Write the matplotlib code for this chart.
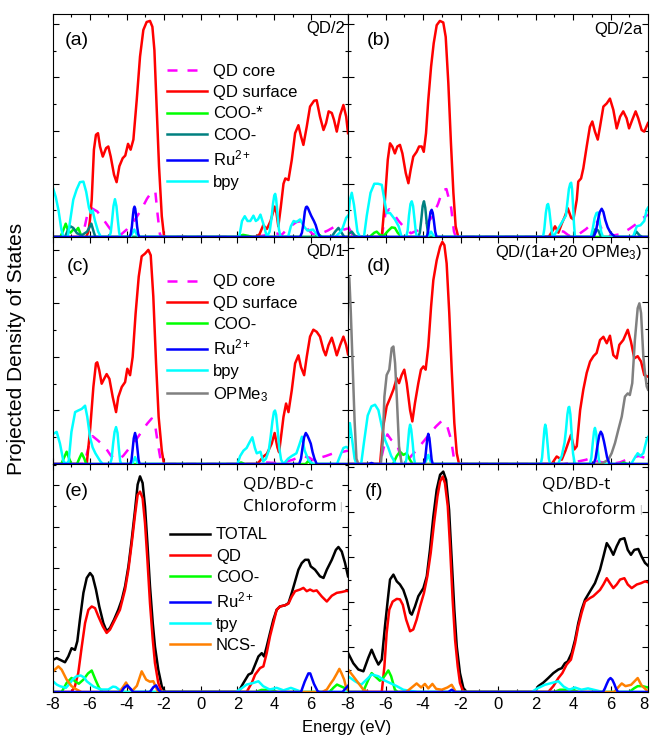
import matplotlib.pyplot as plt
from matplotlib.ticker import MultipleLocator

# energies (eV) and projected DOS, one list of (E, DOS) per curve

# (a) QD/2
a_core = [(-8, 0), (-6.4, 0), (-6.15, 0.4), (-5.95, 0.55), (-5.6, 0.48), (-5.25, 0.32), (-4.9, 0.15),
          (-4.55, 0.06), (-4.3, 0.05), (-4.0, 0.14), (-3.6, 0.3), (-3.2, 0.52), (-2.9, 0.72), (-2.6, 0.87),
          (-2.45, 0.85), (-2.32, 0.4), (-2.2, 0.05), (-2.1, 0), (2.8, 0), (3.3, 0.02), (3.8, 0.05), (4.1, 0.07),
          (4.4, 0.04), (4.8, 0.18), (5.2, 0.28), (5.5, 0.3), (5.8, 0.15), (6.1, 0.05), (6.5, 0.06), (6.9, 0.12),
          (7.3, 0.2), (7.6, 0.17), (7.8, 0.14), (8.0, 0.16)]
a_surface = [(-8, 0), (-6.2, 0), (-6.08, 0.1), (-6.0, 0.3), (-5.9, 0.7), (-5.78, 1.64), (-5.67, 1.92), (-5.56, 1.95),
             (-5.45, 1.7), (-5.3, 1.51), (-5.12, 1.67), (-5.0, 1.7), (-4.87, 1.51), (-4.69, 1.17), (-4.55, 1.03),
             (-4.4, 1.33), (-4.22, 1.48), (-4.08, 1.53), (-3.93, 1.75), (-3.79, 1.64), (-3.64, 1.83), (-3.46, 2.57),
             (-3.28, 3.39), (-3.1, 3.89), (-2.92, 4.04), (-2.74, 4.06), (-2.61, 3.95), (-2.5, 3.51), (-2.38, 2.45),
             (-2.25, 1.33), (-2.1, 0.39), (-1.98, 0.02), (-1.9, 0), (3.0, 0), (3.2, 0.05), (3.4, 0.22), (3.6, 0.15),
             (3.8, 0.3), (4.02, 0.57), (4.12, 0.45), (4.22, 0.2), (4.35, 0.55), (4.5, 1.0), (4.6, 1.1), (4.77, 1.07),
             (4.95, 1.45), (5.13, 1.95), (5.31, 2.1), (5.45, 1.89), (5.58, 1.73), (5.76, 2.07), (5.94, 2.45),
             (6.16, 2.56), (6.3, 2.57), (6.48, 2.26), (6.67, 2.01), (6.81, 2.14), (6.95, 2.36), (7.12, 2.33),
             (7.24, 2.2), (7.39, 1.98), (7.57, 2.29), (7.75, 2.48), (7.9, 2.26), (8.0, 1.95)]
a_coo_star = [(-8, 0), (-7.6, 0), (-7.45, 0.12), (-7.31, 0.25), (-7.18, 0.12), (-7.05, 0.08), (-6.9, 0.14),
              (-6.75, 0.12), (-6.63, 0.17), (-6.5, 0.05), (-6.4, 0), (2.0, 0), (2.3, 0.04), (2.6, 0.02), (2.8, 0),
              (6.2, 0), (6.4, 0.05), (6.6, 0), (8, 0)]
a_coo = [(-8, 0), (-7.35, 0), (-7.18, 0.14), (-7.05, 0.2), (-6.9, 0.17), (-6.7, 0.07), (-6.45, 0.03), (-6.15, 0.1),
         (-5.92, 0.25), (-5.78, 0.08), (-5.7, 0), (7.1, 0), (7.3, 0.1), (7.48, 0.17), (7.65, 0.08), (7.8, 0), (8, 0)]
a_ru = [(-8, 0), (-3.85, 0), (-3.78, 0.06), (-3.72, 0.2), (-3.66, 0.42), (-3.62, 0.53), (-3.58, 0.57), (-3.54, 0.53),
        (-3.5, 0.42), (-3.44, 0.2), (-3.38, 0.06), (-3.32, 0), (5.4, 0), (5.5, 0.08), (5.58, 0.25), (5.66, 0.48),
        (5.72, 0.56), (5.77, 0.57), (5.83, 0.54), (5.9, 0.48), (6.0, 0.4), (6.15, 0.3), (6.25, 0.22), (6.35, 0.1),
        (6.45, 0.02), (6.5, 0), (8, 0)]
a_bpy = [(-8, 0.92), (-7.85, 0.75), (-7.7, 0.5), (-7.55, 0.15), (-7.44, 0), (-7.2, 0), (-7.05, 0.35), (-6.9, 0.7),
         (-6.72, 0.89), (-6.54, 1.03), (-6.35, 1.04), (-6.2, 0.85), (-6.05, 0.55), (-5.95, 0.45), (-5.85, 0.5),
         (-5.72, 0.3), (-5.55, 0.1), (-5.4, 0), (-4.95, 0), (-4.87, 0.08), (-4.8, 0.3), (-4.72, 0.58), (-4.64, 0.71),
         (-4.56, 0.58), (-4.48, 0.3), (-4.41, 0.08), (-4.35, 0), (-3.8, 0), (-3.68, 0.08), (-3.59, 0.14),
         (-3.48, 0.06), (-3.35, 0), (2.1, 0), (2.25, 0.3), (2.4, 0.39), (2.55, 0.3), (2.7, 0.3), (2.87, 0.4),
         (3.0, 0.3), (3.12, 0.33), (3.25, 0.42), (3.45, 0.2), (3.6, 0), (3.75, 0.1), (3.85, 0.35), (3.93, 0.62),
         (4.0, 0.78), (4.05, 0.81), (4.1, 0.72), (4.17, 0.45), (4.25, 0.15), (4.32, 0.03), (4.4, 0), (4.75, 0),
         (4.9, 0.2), (5.05, 0.3), (5.2, 0.28), (5.4, 0.33), (5.6, 0.2), (5.8, 0.12), (6.1, 0.14), (6.3, 0.05),
         (6.5, 0), (7.3, 0), (7.55, 0.08), (7.7, 0.16), (7.9, 0.36), (8.0, 0.4)]

# (b) QD/2a
b_core = [(-8, 0.2), (-7.85, 0.1), (-7.7, 0), (-6.2, 0), (-6.0, 0.45), (-5.8, 0.52), (-5.6, 0.45), (-5.3, 0.3),
          (-5.0, 0.18), (-4.65, 0.07), (-4.3, 0.12), (-3.9, 0.22), (-3.5, 0.38), (-3.2, 0.62), (-2.95, 0.88),
          (-2.75, 0.9), (-2.5, 0.55), (-2.35, 0.1), (-2.25, 0), (2.9, 0), (3.2, 0.12), (3.5, 0.1), (3.8, 0.02),
          (4.3, 0.05), (4.7, 0.15), (5.1, 0.28), (5.35, 0.28), (5.6, 0.1), (6.0, 0.02), (6.5, 0.05), (7.0, 0.15),
          (7.4, 0.25), (7.7, 0.35), (8.0, 0.42)]
b_surface = [(-8, 0), (-6.2, 0), (-6.03, 0.7), (-5.88, 1.45), (-5.76, 1.76), (-5.64, 1.7), (-5.5, 1.57), (-5.37, 1.7),
             (-5.23, 1.73), (-5.1, 1.57), (-4.92, 1.2), (-4.78, 1.01), (-4.66, 1.26), (-4.52, 1.51), (-4.34, 1.6),
             (-4.21, 1.7), (-4.07, 1.7), (-3.96, 1.6), (-3.84, 1.95), (-3.72, 2.57), (-3.57, 3.2), (-3.43, 3.64),
             (-3.27, 3.98), (-3.1, 4.06), (-2.92, 4.03), (-2.79, 3.76), (-2.65, 2.89), (-2.51, 1.76), (-2.38, 0.83),
             (-2.26, 0.2), (-2.12, 0), (2.7, 0), (2.95, 0.14), (3.04, 0.2), (3.22, 0.08), (3.4, 0.25), (3.57, 0.39),
             (3.72, 0.54), (3.9, 0.36), (4.02, 0.33), (4.2, 0.7), (4.28, 1.04), (4.43, 1.1), (4.55, 1.29), (4.73, 1.7),
             (4.9, 2.07), (5.03, 2.17), (5.17, 1.98), (5.32, 1.83), (5.44, 2.07), (5.62, 2.45), (5.8, 2.51),
             (5.97, 2.6), (6.15, 2.39), (6.33, 2.04), (6.51, 2.26), (6.68, 2.36), (6.86, 2.23), (6.99, 2.04),
             (7.16, 2.2), (7.34, 2.36), (7.48, 2.23), (7.66, 2.01), (7.8, 1.98), (8.0, 2.14)]
b_coo_star = [(-8, 0), (-6.85, 0), (-6.6, 0.08), (-6.47, 0.1), (-6.3, 0.04), (-6.1, 0.02), (-5.85, 0.12),
              (-5.67, 0.18), (-5.5, 0.17), (-5.35, 0.08), (-5.15, 0), (8, 0)]
b_coo = [(-8, 0.05), (-7.8, 0.1), (-7.65, 0.03), (-7.5, 0), (-4.25, 0), (-4.17, 0.08), (-4.1, 0.3), (-4.02, 0.58),
         (-3.95, 0.67), (-3.88, 0.55), (-3.8, 0.25), (-3.73, 0.05), (-3.68, 0), (5.0, 0), (5.2, 0.15), (5.35, 0.12),
         (5.5, 0), (7.2, 0), (7.38, 0.1), (7.55, 0.03), (7.7, 0), (8, 0)]
b_ru = [(-8, 0), (-3.8, 0), (-3.73, 0.1), (-3.67, 0.3), (-3.6, 0.47), (-3.54, 0.51), (-3.48, 0.45), (-3.42, 0.3),
        (-3.35, 0.1), (-3.28, 0), (5.1, 0), (5.22, 0.1), (5.32, 0.3), (5.43, 0.47), (5.53, 0.53), (5.62, 0.47),
        (5.72, 0.32), (5.85, 0.18), (6.0, 0.08), (6.24, 0), (8, 0)]
b_bpy = [(-8, 0.33), (-7.9, 0.7), (-7.8, 0.83), (-7.68, 0.6), (-7.5, 0.1), (-7.36, 0), (-7.15, 0), (-7.0, 0.4),
         (-6.8, 0.83), (-6.6, 1.0), (-6.4, 1.0), (-6.2, 0.98), (-6.06, 0.7), (-5.94, 0.45), (-5.76, 0.45),
         (-5.5, 0.33), (-5.3, 0.2), (-5.14, 0), (-4.9, 0), (-4.82, 0.12), (-4.75, 0.4), (-4.67, 0.62), (-4.6, 0.67),
         (-4.53, 0.58), (-4.45, 0.32), (-4.38, 0.08), (-4.32, 0), (-3.75, 0), (-3.57, 0.1), (-3.4, 0), (2.4, 0),
         (2.47, 0.15), (2.55, 0.45), (2.62, 0.6), (2.67, 0.62), (2.73, 0.52), (2.8, 0.3), (2.88, 0.08), (2.95, 0),
         (3.2, 0.15), (3.45, 0.3), (3.62, 0.4), (3.7, 0.65), (3.78, 0.9), (3.85, 1.0), (3.9, 1.02), (3.95, 0.9),
         (4.0, 0.6), (4.05, 0.25), (4.1, 0.02), (4.15, 0), (4.95, 0), (5.05, 0.15), (5.15, 0.35), (5.25, 0.45),
         (5.32, 0.46), (5.4, 0.35), (5.5, 0.1), (5.6, 0), (7.2, 0), (7.4, 0.2), (7.6, 0.22), (7.8, 0.3),
         (7.93, 0.51), (8.0, 0.55)]

# (c) QD/1
c_core = [(-8, 0), (-6.3, 0), (-6.05, 0.35), (-5.85, 0.52), (-5.6, 0.45), (-5.2, 0.33), (-4.85, 0.15), (-4.5, 0.08),
          (-4.2, 0.15), (-3.9, 0.28), (-3.5, 0.45), (-3.2, 0.6), (-2.9, 0.75), (-2.65, 0.85), (-2.45, 0.7),
          (-2.3, 0.35), (-2.15, 0.05), (-2.05, 0), (3.0, 0), (3.5, 0.03), (4.0, 0.02), (4.5, 0.03), (5.0, 0.08),
          (5.5, 0.15), (5.9, 0.12), (6.2, 0.05), (6.5, 0.12), (6.8, 0.15), (7.2, 0.2), (7.6, 0.22), (8.0, 0.25)]
c_surface = [(-8, 0), (-6.17, 0), (-5.99, 0.63), (-5.81, 1.44), (-5.67, 1.88), (-5.6, 1.9), (-5.49, 1.75),
             (-5.36, 1.5), (-5.23, 1.59), (-5.09, 1.68), (-4.94, 1.59), (-4.76, 1.25), (-4.58, 0.97), (-4.46, 1.25),
             (-4.27, 1.44), (-4.09, 1.53), (-3.97, 1.78), (-3.82, 1.66), (-3.68, 2.0), (-3.52, 2.81), (-3.35, 3.5),
             (-3.19, 3.88), (-3.01, 3.93), (-2.83, 4.0), (-2.7, 3.9), (-2.56, 3.13), (-2.41, 1.88), (-2.27, 0.88),
             (-2.1, 0.25), (-1.98, 0), (3.05, 0), (3.2, 0.05), (3.41, 0.14), (3.6, 0.19), (3.86, 0.38), (4.02, 0.58),
             (4.17, 0.31), (4.26, 0.22), (4.4, 0.6), (4.5, 0.88), (4.64, 1.13), (4.77, 0.97), (4.95, 1.38),
             (5.13, 1.88), (5.31, 2.03), (5.45, 1.81), (5.62, 1.66), (5.76, 2.0), (5.94, 2.38), (6.12, 2.51),
             (6.3, 2.47), (6.48, 2.38), (6.67, 2.13), (6.79, 2.03), (6.94, 2.22), (7.12, 2.36), (7.24, 2.22),
             (7.39, 2.03), (7.57, 2.22), (7.75, 2.38), (7.9, 2.22), (8.0, 2.05)]
c_coo = [(-8, 0), (-7.55, 0), (-7.4, 0.12), (-7.26, 0.23), (-7.12, 0.1), (-7.0, 0), (-6.7, 0), (-6.55, 0.12),
         (-6.44, 0.2), (-6.3, 0.1), (-6.2, 0), (2.0, 0), (2.2, 0.03), (2.4, 0), (5.7, 0), (5.85, 0.06), (6.0, 0), (8, 0)]
c_ru = [(-8, 0), (-3.8, 0), (-3.74, 0.08), (-3.68, 0.28), (-3.62, 0.48), (-3.55, 0.58), (-3.48, 0.48), (-3.42, 0.28),
        (-3.36, 0.08), (-3.3, 0), (5.35, 0), (5.45, 0.1), (5.53, 0.3), (5.62, 0.5), (5.71, 0.58), (5.8, 0.53),
        (5.9, 0.45), (5.98, 0.38), (6.08, 0.22), (6.18, 0.1), (6.3, 0), (8, 0)]
c_bpy = [(-8, 0.56), (-7.8, 0.6), (-7.62, 0.38), (-7.44, 0.06), (-7.3, 0), (-7.15, 0.05), (-7.0, 0.6), (-6.8, 0.97),
         (-6.63, 1.0), (-6.44, 1.03), (-6.26, 1.09), (-6.14, 0.88), (-5.99, 0.5), (-5.85, 0.31), (-5.7, 0.2),
         (-5.45, 0.06), (-5.3, 0), (-4.9, 0), (-4.82, 0.1), (-4.74, 0.38), (-4.66, 0.6), (-4.58, 0.69), (-4.5, 0.58),
         (-4.43, 0.3), (-4.36, 0.06), (-4.3, 0), (-3.7, 0), (-3.55, 0.13), (-3.4, 0), (2.0, 0), (2.15, 0.15),
         (2.33, 0.25), (2.5, 0.3), (2.65, 0.4), (2.81, 0.5), (2.95, 0.3), (3.05, 0.2), (3.25, 0.23), (3.4, 0.05),
         (3.55, 0.1), (3.7, 0.25), (3.8, 0.5), (3.9, 0.8), (3.98, 0.97), (4.04, 1.0), (4.1, 0.92), (4.18, 0.65),
         (4.27, 0.3), (4.37, 0.08), (4.5, 0), (4.75, 0.1), (4.95, 0.15), (5.2, 0.2), (5.35, 0.35), (5.5, 0.51),
         (5.65, 0.25), (5.85, 0.08), (6.1, 0), (7.4, 0), (7.57, 0.15), (7.75, 0.3), (7.9, 0.32), (8.0, 0.3)]

# (d) QD/(1a+20 OPMe3)
d_core = [(-8, 0), (-6.3, 0), (-6.1, 0.3), (-5.9, 0.55), (-5.7, 0.45), (-5.4, 0.38), (-5.2, 0.15), (-5.0, 0.05),
          (-4.7, 0.12), (-4.3, 0.28), (-3.9, 0.45), (-3.6, 0.58), (-3.3, 0.7), (-3.0, 0.8), (-2.75, 0.75),
          (-2.5, 0.45), (-2.35, 0.1), (-2.25, 0), (3.5, 0), (4.0, 0.03), (4.3, 0.05), (4.7, 0.08), (5.0, 0.12),
          (5.3, 0.05), (6.0, 0), (6.5, 0.03), (7.0, 0.1), (7.5, 0.15), (7.8, 0.12), (8.0, 0.1)]
d_surface = [(-8, 0), (-6.29, 0), (-6.12, 0.7), (-5.94, 1.07), (-5.76, 1.22), (-5.58, 1.38), (-5.4, 1.59),
             (-5.28, 1.5), (-5.14, 1.65), (-5.0, 1.75), (-4.87, 1.5), (-4.69, 1.0), (-4.57, 0.79), (-4.43, 1.13),
             (-4.25, 1.5), (-4.11, 1.75), (-3.98, 1.81), (-3.86, 1.75), (-3.72, 2.18), (-3.57, 2.92), (-3.45, 3.41),
             (-3.27, 3.78), (-3.09, 4.03), (-2.97, 4.12), (-2.86, 4.06), (-2.74, 3.72), (-2.6, 2.8), (-2.47, 1.75),
             (-2.33, 0.76), (-2.2, 0.2), (-2.08, 0), (2.86, 0), (3.13, 0.14), (3.4, 0.08), (3.6, 0.25), (3.75, 0.4),
             (3.89, 0.54), (4.07, 0.27), (4.2, 0.33), (4.38, 1.0), (4.55, 1.38), (4.73, 1.69), (4.91, 1.9),
             (5.09, 2.0), (5.26, 2.06), (5.44, 2.3), (5.62, 2.36), (5.8, 2.24), (5.97, 2.38), (6.15, 2.02),
             (6.33, 1.96), (6.47, 2.21), (6.68, 2.3), (6.92, 2.49), (7.09, 2.27), (7.27, 1.96), (7.45, 2.0),
             (7.63, 1.9), (7.8, 1.65), (8.0, 1.62)]
d_coo = [(-8, 0), (-5.6, 0), (-5.4, 0.15), (-5.23, 0.23), (-5.05, 0.17), (-4.87, 0.2), (-4.7, 0.08), (-4.55, 0),
         (6.5, 0), (6.7, 0.03), (6.9, 0), (8, 0)]
d_ru = [(-8, 0), (-6.9, 0), (-6.75, 0.02), (-6.6, 0), (-3.95, 0), (-3.89, 0.08), (-3.83, 0.28), (-3.77, 0.48),
        (-3.72, 0.56), (-3.66, 0.48), (-3.6, 0.28), (-3.54, 0.08), (-3.48, 0), (5.1, 0), (5.2, 0.1), (5.3, 0.33),
        (5.4, 0.53), (5.48, 0.6), (5.56, 0.55), (5.65, 0.42), (5.72, 0.3), (5.82, 0.12), (5.95, 0), (8, 0)]
d_bpy = [(-8, 0.35), (-7.9, 0.76), (-7.8, 0.5), (-7.65, 0.1), (-7.55, 0), (-7.3, 0), (-7.15, 0.4), (-6.95, 0.9),
         (-6.75, 1.07), (-6.56, 1.1), (-6.38, 1.0), (-6.2, 0.7), (-6.03, 0.45), (-5.85, 0.3), (-5.7, 0.15),
         (-5.58, 0.08), (-5.45, 0), (-4.95, 0), (-4.88, 0.1), (-4.8, 0.4), (-4.74, 0.64), (-4.69, 0.73),
         (-4.63, 0.64), (-4.55, 0.38), (-4.48, 0.1), (-4.42, 0), (-3.9, 0), (-3.72, 0.17), (-3.55, 0), (2.28, 0),
         (2.35, 0.12), (2.42, 0.42), (2.48, 0.66), (2.52, 0.73), (2.57, 0.65), (2.64, 0.38), (2.71, 0.1), (2.78, 0),
         (3.2, 0), (3.4, 0.15), (3.55, 0.4), (3.63, 0.65), (3.7, 0.92), (3.76, 1.05), (3.8, 1.06), (3.86, 0.92),
         (3.93, 0.55), (4.0, 0.2), (4.08, 0.03), (4.15, 0), (4.9, 0), (4.98, 0.12), (5.05, 0.38), (5.12, 0.6),
         (5.17, 0.67), (5.23, 0.58), (5.3, 0.32), (5.38, 0.08), (5.45, 0), (7.1, 0), (7.3, 0.12), (7.45, 0.2),
         (7.6, 0.15), (7.75, 0.2), (7.93, 0.45), (8.0, 0.5)]
d_opme3 = [(-8, 3.5), (-7.93, 3.45), (-7.85, 2.8), (-7.75, 1.8), (-7.65, 0.8), (-7.55, 0.1), (-7.45, 0), (-6.25, 0),
           (-6.15, 0.4), (-6.06, 1.25), (-5.94, 1.65), (-5.8, 1.75), (-5.72, 2.0), (-5.67, 2.15), (-5.58, 2.18),
           (-5.49, 1.87), (-5.4, 1.25), (-5.28, 0.33), (-5.14, 0), (5.5, 0), (5.88, 0.08), (6.06, 0.2), (6.24, 0.39),
           (6.42, 0.64), (6.6, 0.88), (6.77, 1.25), (6.92, 1.31), (7.03, 1.28), (7.16, 1.5), (7.3, 2.3), (7.45, 2.89),
           (7.54, 2.98), (7.63, 2.8), (7.75, 2.0), (7.84, 1.69), (7.93, 1.44), (8.0, 1.38)]

# (e) QD/BD-c, chloroform
e_total = [(-8, 0.78), (-7.8, 0.82), (-7.62, 0.78), (-7.35, 0.72), (-7.17, 0.86), (-6.99, 1.06), (-6.81, 1.02),
           (-6.68, 1.23), (-6.54, 1.75), (-6.35, 2.4), (-6.17, 2.76), (-5.99, 2.88), (-5.85, 2.8), (-5.67, 2.48),
           (-5.49, 2.07), (-5.27, 1.67), (-5.09, 1.47), (-4.91, 1.55), (-4.69, 1.75), (-4.46, 1.99), (-4.27, 2.23),
           (-4.09, 2.56), (-3.91, 3.04), (-3.73, 3.69), (-3.55, 4.41), (-3.41, 5.02), (-3.28, 5.22), (-3.14, 5.06),
           (-3.01, 4.49), (-2.88, 3.6), (-2.74, 2.56), (-2.59, 1.67), (-2.47, 1.1), (-2.29, 0.54), (-2.1, 0.14),
           (-1.92, 0), (2.05, 0), (2.33, 0.22), (2.6, 0.42), (2.78, 0.46), (2.96, 0.66), (3.14, 0.86), (3.32, 0.94),
           (3.45, 0.86), (3.59, 1.1), (3.77, 1.43), (3.95, 1.75), (4.13, 1.99), (4.31, 2.07), (4.59, 2.1),
           (4.77, 2.15), (4.95, 2.4), (5.13, 2.68), (5.31, 2.96), (5.49, 3.12), (5.67, 3.2), (5.85, 3.2),
           (5.98, 3.04), (6.21, 2.96), (6.48, 2.8), (6.67, 2.76), (6.85, 2.96), (7.12, 3.2), (7.34, 3.44),
           (7.48, 3.51), (7.66, 3.4), (7.84, 3.12), (8.0, 2.8)]
e_qd = [(-8, 0), (-6.99, 0), (-6.81, 0.14), (-6.63, 0.46), (-6.44, 1.1), (-6.26, 1.67), (-6.08, 1.99), (-5.9, 2.07),
        (-5.72, 2.03), (-5.54, 1.83), (-5.3, 1.59), (-5.09, 1.43), (-4.91, 1.51), (-4.64, 1.75), (-4.37, 1.99),
        (-4.09, 2.48), (-3.91, 2.96), (-3.73, 3.6), (-3.55, 4.29), (-3.41, 4.77), (-3.28, 4.85), (-3.14, 4.69),
        (-3.01, 4.09), (-2.88, 3.2), (-2.74, 2.15), (-2.59, 1.27), (-2.47, 0.7), (-2.29, 0.22), (-2.1, 0), (2.5, 0),
        (2.78, 0.22), (2.96, 0.42), (3.23, 0.58), (3.41, 0.62), (3.59, 0.94), (3.77, 1.35), (3.95, 1.67),
        (4.13, 1.99), (4.31, 2.07), (4.59, 2.1), (4.77, 2.14), (4.95, 2.31), (5.13, 2.44), (5.4, 2.48),
        (5.58, 2.52), (5.76, 2.44), (5.94, 2.48), (6.12, 2.44), (6.3, 2.46), (6.58, 2.31), (6.85, 2.19),
        (7.12, 2.33), (7.39, 2.4), (7.66, 2.42), (7.93, 2.45), (8.0, 2.44)]
e_coo = [(-8, 0), (-7.53, 0), (-7.26, 0.22), (-6.99, 0.34), (-6.81, 0.26), (-6.6, 0.2), (-6.35, 0.3), (-6.1, 0.45),
         (-5.9, 0.52), (-5.7, 0.3), (-5.5, 0.1), (-5.3, 0), (3.0, 0), (3.3, 0.05), (3.8, 0.05), (4.2, 0), (7.0, 0),
         (7.2, 0.1), (7.4, 0.18), (7.6, 0.14), (7.8, 0.1), (8.0, 0.05)]
e_ru = [(-8, 0), (-4.3, 0), (-4.15, 0.1), (-3.97, 0.16), (-3.8, 0.08), (-3.65, 0), (-2.75, 0), (-2.55, 0.12),
        (-2.41, 0.16), (-2.28, 0.05), (-2.15, 0), (5.45, 0), (5.65, 0.25), (5.85, 0.45), (5.95, 0.45), (6.15, 0.2),
        (6.35, 0.02), (6.45, 0), (7.7, 0), (7.9, 0.1), (8.0, 0.15)]
e_tpy = [(-8, 0.26), (-7.8, 0.18), (-7.62, 0.14), (-7.3, 0.1), (-7.1, 0.2), (-6.9, 0.32), (-6.72, 0.38), (-6.5, 0.4),
         (-6.3, 0.35), (-6.17, 0.26), (-5.8, 0.13), (-5.4, 0.06), (-5.0, 0.06), (-4.75, 0.13), (-4.6, 0.12),
         (-4.3, 0.02), (-4.1, 0), (1.9, 0), (2.2, 0.08), (2.5, 0.18), (2.87, 0.22), (3.14, 0.26), (3.4, 0.14),
         (3.75, 0.06), (4.13, 0.1), (4.5, 0.04), (4.9, 0.1), (5.2, 0.05), (5.5, 0), (8, 0)]
e_ncs = [(-8, 0.5), (-7.71, 0.62), (-7.53, 0.54), (-7.26, 0.3), (-6.99, 0.14), (-6.72, 0.06), (-6.45, 0), (-4.4, 0),
         (-4.2, 0.12), (-4.04, 0.23), (-3.88, 0.1), (-3.7, 0.03), (-3.45, 0.15), (-3.19, 0.5), (-2.95, 0.3),
         (-2.75, 0.25), (-2.56, 0.26), (-2.4, 0.1), (-2.3, 0), (6.6, 0), (6.85, 0.06), (7.05, 0.2), (7.21, 0.3),
         (7.4, 0.45), (7.53, 0.56), (7.65, 0.45), (7.79, 0.3), (7.9, 0.1), (8.0, 0.05)]

# (f) QD/BD-t, chloroform
f_total = [(-8, 0.87), (-7.72, 0.64), (-7.45, 0.5), (-7.18, 0.46), (-6.92, 0.76), (-6.74, 0.94), (-6.56, 0.76),
           (-6.38, 0.61), (-6.2, 0.72), (-6.03, 1.46), (-5.88, 2.05), (-5.76, 2.5), (-5.58, 2.61), (-5.4, 2.46),
           (-5.23, 2.39), (-5.05, 2.27), (-4.87, 2.05), (-4.69, 1.76), (-4.6, 1.72), (-4.43, 1.9), (-4.25, 2.13),
           (-3.98, 2.31), (-3.8, 2.57), (-3.63, 3.16), (-3.45, 3.9), (-3.27, 4.5), (-3.09, 4.83), (-2.92, 4.9),
           (-2.77, 4.72), (-2.61, 4.05), (-2.47, 2.94), (-2.33, 1.83), (-2.2, 1.01), (-2.03, 0.42), (-1.85, 0.09),
           (-1.67, 0), (1.97, 0), (2.15, 0.13), (2.42, 0.21), (2.68, 0.31), (2.95, 0.42), (3.22, 0.5), (3.4, 0.53),
           (3.57, 0.64), (3.72, 0.68), (3.93, 0.87), (4.11, 1.16), (4.28, 1.53), (4.46, 1.83), (4.64, 2.05),
           (4.91, 2.24), (5.17, 2.42), (5.44, 2.72), (5.62, 3.01), (5.8, 3.31), (5.97, 3.2), (6.15, 3.05),
           (6.33, 3.24), (6.51, 3.39), (6.74, 3.42), (6.92, 3.16), (7.09, 3.05), (7.27, 3.16), (7.48, 3.18),
           (7.66, 3.01), (7.84, 2.87), (8.0, 2.81)]
f_qd = [(-8, 0), (-6.2, 0), (-6.06, 0.57), (-5.94, 1.31), (-5.8, 1.83), (-5.62, 2.01), (-5.4, 2.07), (-5.23, 2.06),
        (-5.08, 1.94), (-4.9, 1.61), (-4.69, 1.35), (-4.52, 1.39), (-4.34, 1.61), (-4.16, 1.9), (-3.95, 2.2),
        (-3.77, 2.57), (-3.59, 3.09), (-3.41, 3.76), (-3.23, 4.35), (-3.09, 4.68), (-2.95, 4.79), (-2.83, 4.64),
        (-2.68, 4.13), (-2.56, 3.24), (-2.42, 2.05), (-2.29, 1.16), (-2.15, 0.57), (-2.03, 0.2), (-1.85, 0),
        (2.68, 0), (2.95, 0.13), (3.22, 0.31), (3.43, 0.42), (3.66, 0.61), (3.89, 0.72), (4.11, 1.09), (4.28, 1.46),
        (4.46, 1.76), (4.64, 2.01), (4.91, 2.09), (5.08, 2.13), (5.26, 2.2), (5.44, 2.27), (5.62, 2.39),
        (5.8, 2.53), (5.97, 2.42), (6.15, 2.31), (6.33, 2.39), (6.51, 2.5), (6.74, 2.53), (6.92, 2.39),
        (7.13, 2.31), (7.4, 2.39), (7.63, 2.42), (7.84, 2.46), (8.0, 2.44)]
f_coo = [(-8, 0), (-7.2, 0), (-6.92, 0.27), (-6.74, 0.42), (-6.56, 0.35), (-6.3, 0.25), (-6.06, 0.35), (-5.85, 0.48),
         (-5.7, 0.35), (-5.5, 0.05), (-5.35, 0), (3.0, 0), (3.3, 0.05), (4.0, 0.05), (4.3, 0), (7.0, 0), (7.25, 0.08),
         (7.45, 0.13), (7.7, 0.13), (8.0, 0.1)]
f_ru = [(-8, 0), (-2.65, 0), (-2.47, 0.05), (-2.3, 0), (5.6, 0), (5.7, 0.08), (5.8, 0.18), (5.9, 0.27), (6.0, 0.31),
        (6.1, 0.27), (6.2, 0.18), (6.3, 0.07), (6.4, 0), (8, 0)]
f_tpy = [(-8, 0.35), (-7.63, 0.24), (-7.3, 0.16), (-6.95, 0.3), (-6.74, 0.39), (-6.38, 0.35), (-6.12, 0.27),
         (-5.76, 0.2), (-5.4, 0.13), (-5.05, 0.05), (-4.6, 0.02), (-4.3, 0), (1.8, 0), (2.1, 0.08), (2.5, 0.16),
         (2.86, 0.2), (3.22, 0.24), (3.5, 0.12), (3.8, 0.05), (4.1, 0.1), (4.45, 0.05), (4.8, 0.08), (5.2, 0.04),
         (5.6, 0), (8, 0)]
f_ncs = [(-8, 0.5), (-7.72, 0.35), (-7.45, 0.2), (-7.18, 0.05), (-6.9, 0), (-4.9, 0), (-4.6, 0.1), (-4.34, 0.19),
         (-4.1, 0.1), (-3.9, 0.18), (-3.72, 0.08), (-3.5, 0.18), (-3.3, 0.07), (-3.0, 0.05), (-2.7, 0.1),
         (-2.47, 0.16), (-2.25, 0), (6.2, 0), (6.4, 0.1), (6.6, 0.19), (6.8, 0.13), (7.1, 0.16), (7.45, 0.31),
         (7.65, 0.15), (7.9, 0.05), (8.0, 0)]

x_ticks = [-8, -6, -4, -2, 0, 2, 4, 6, 8]
x_labels = ['-8', '-6', '-4', '-2', '0', '2', '4', '6', '8']
y_tops = [4.19, 4.19, 4.24, 4.21, 5.52, 5.07]

RED, MAG, LIME, TEAL, BLUE, CYAN = '#ff0000', '#ff00ff', '#00ff00', '#008080', '#0000ff', '#00ffff'
GREY, ORANGE = '#808080', '#ff8000'

plt.rcParams['font.family'] = ['Liberation Sans', 'DejaVu Sans']
plt.rcParams['mathtext.fontset'] = 'custom'
plt.rcParams['mathtext.rm'] = 'Liberation Sans'
plt.rcParams['mathtext.it'] = 'Liberation Sans:italic'
plt.rcParams['axes.unicode_minus'] = False


def trace(ax, pts, color, label=None, dashed=False):
    e = [p[0] for p in pts]
    v = [p[1] for p in pts]
    ls = (0, (4, 4)) if dashed else '-'
    line, = ax.plot(e, v, color=color, lw=1.8, ls=ls, label=label, solid_joinstyle='round')
    return line


def key(ax, handles, x, y):
    ax.legend(handles=handles, loc='upper left', bbox_to_anchor=(x, y), frameon=False, fontsize=12,
              handlelength=2.4, handletextpad=0.35, labelspacing=0.37, borderpad=0, borderaxespad=0)


fig = plt.figure(figsize=(6.51, 7.44), dpi=100)
cols = [(0.0814, 0.4532), (0.5346, 0.4608)]
rows = [(0.6815, 0.2997), (0.3763, 0.3051), (0.0699, 0.3065)]
axes = []
for r, (y0, h) in enumerate(rows):
    for c, (x0, w) in enumerate(cols):
        ax = fig.add_axes([x0, y0, w, h])
        ax.set_xlim(-8, 8)
        ax.set_ylim(0, y_tops[2 * r + c])
        ax.set_xticks(x_ticks)
        ax.xaxis.set_minor_locator(MultipleLocator(1))
        ax.yaxis.set_major_locator(MultipleLocator(1))
        ax.yaxis.set_minor_locator(MultipleLocator(0.5))
        ax.tick_params(which='both', direction='in', top=True, right=True, labelleft=False,
                       labelbottom=(r == 2), labelsize=12, width=0.8)
        ax.tick_params(which='major', length=4)
        ax.tick_params(which='minor', length=2.5)
        for s in ax.spines.values():
            s.set_linewidth(0.8)
        axes.append(ax)
ax_a, ax_b, ax_c, ax_d, ax_e, ax_f = axes

# bottom row: the left panel's "8" sits under the right panel's "-8"
ax_e.set_xticklabels(x_labels[:-1] + [''])
ax_f.set_xticklabels(x_labels)
ax_f.get_xticklabels()[-1].set_horizontalalignment('right')

# (a)
h = [trace(ax_a, a_core, MAG, 'QD core', dashed=True), trace(ax_a, a_surface, RED, 'QD surface'),
     trace(ax_a, a_coo_star, LIME, 'COO-*'), trace(ax_a, a_coo, TEAL, 'COO-')]
bp = trace(ax_a, a_bpy, CYAN, 'bpy')
ru = trace(ax_a, a_ru, BLUE, 'Ru$^{2+}$')
key(ax_a, h + [ru, bp], 0.386, 0.775)

# (b)
trace(ax_b, b_core, MAG, dashed=True)
trace(ax_b, b_surface, RED)
trace(ax_b, b_coo_star, LIME)
trace(ax_b, b_coo, TEAL)
trace(ax_b, b_bpy, CYAN)
trace(ax_b, b_ru, BLUE)

# (d) first so its OPMe3 line can go in the key of (c)
trace(ax_d, d_core, MAG, dashed=True)
trace(ax_d, d_surface, RED)
trace(ax_d, d_coo, LIME)
trace(ax_d, d_bpy, CYAN)
op = trace(ax_d, d_opme3, GREY, 'OPMe$_3$')
trace(ax_d, d_ru, BLUE)

# (c)
h = [trace(ax_c, c_core, MAG, 'QD core', dashed=True), trace(ax_c, c_surface, RED, 'QD surface'),
     trace(ax_c, c_coo, LIME, 'COO-')]
bp = trace(ax_c, c_bpy, CYAN, 'bpy')
ru = trace(ax_c, c_ru, BLUE, 'Ru$^{2+}$')
key(ax_c, h + [ru, bp, op], 0.386, 0.835)

# (e)
h = [trace(ax_e, e_total, 'black', 'TOTAL'), trace(ax_e, e_qd, RED, 'QD'), trace(ax_e, e_coo, LIME, 'COO-')]
tp = trace(ax_e, e_tpy, CYAN, 'tpy')
nc = trace(ax_e, e_ncs, ORANGE, 'NCS-')
ru = trace(ax_e, e_ru, BLUE, 'Ru$^{2+}$')
key(ax_e, h + [ru, tp, nc], 0.397, 0.722)

# (f)
trace(ax_f, f_total, 'black')
trace(ax_f, f_qd, RED)
trace(ax_f, f_coo, LIME)
trace(ax_f, f_tpy, CYAN)
trace(ax_f, f_ncs, ORANGE)
trace(ax_f, f_ru, BLUE)

tags = ['(a)', '(b)', '(c)', '(d)', '(e)', '(f)']
tag_xy = [(0.04, 0.883), (0.063, 0.883), (0.047, 0.872), (0.063, 0.872), (0.04, 0.88), (0.057, 0.88)]
for ax, t, (x, y) in zip(axes, tags, tag_xy):
    ax.text(x, y, t, transform=ax.transAxes, fontsize=14, ha='left', va='center')

names = [('QD/2', 0.99, 0.937), ('QD/2a', 0.98, 0.932), ('QD/1', 0.99, 0.938), ('QD/(1a+20 OPMe$_3$)', 0.98, 0.93)]
for ax, (t, x, y) in zip(axes[:4], names):
    ax.text(x, y, t, transform=ax.transAxes, fontsize=12, ha='right', va='center')

for ax, t, x, y in [(ax_e, 'QD/BD-c', 0.644, 0.81), (ax_f, 'QD/BD-t', 0.647, 0.80)]:
    ax.text(x, 0.912, t, transform=ax.transAxes, fontsize=12.5, ha='left', va='center', family='Open Sans')
    cl = ax.text(x, y, 'Chloroform', transform=ax.transAxes, fontsize=12.5, ha='left', va='center',
                 family='Open Sans')
    ax.annotate('|', xy=(1, 0.5), xycoords=cl, xytext=(2, 0), textcoords='offset points',
                fontsize=7, color='#b0b0b0', ha='left', va='center')

fig.text(0.026, 0.531, 'Projected Density of States', rotation=90, fontsize=15, ha='center', va='center')
fig.text(0.533, 0.022, 'Energy (eV)', fontsize=12, ha='center', va='center')

fig.savefig('out.png', dpi=100)
